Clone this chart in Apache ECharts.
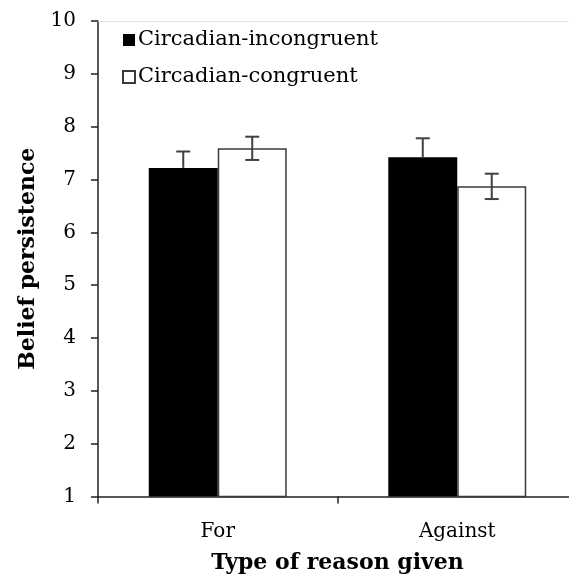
<!DOCTYPE html>
<html>
<head>
<meta charset="utf-8">
<script src="https://cdn.jsdelivr.net/npm/echarts@6/dist/echarts.min.js"></script>
<style>
  html, body { margin: 0; padding: 0; background: #fff; overflow: hidden; }
  #chart { width: 569px; height: 582px; }
</style>
</head>
<body>
<div id="chart"></div>
<script>
// Reason types on the x axis
const categories = ['For', 'Against'];

// Mean belief persistence per group
const incongruent = [7.22, 7.42];
const congruent = [7.59, 6.87];

// Standard errors for each mean
const incongruentErr = [0.31, 0.36];
const congruentErr = [0.22, 0.24];

const seriesNames = ['Circadian-incongruent', 'Circadian-congruent'];
const yTicks = [1, 10, 1]; // min, max, step

const FONT = 'DejaVu Serif';
const BAR_FRACTION = 0.288; // bar width as share of a category band

// Error bars drawn at the centre of each bar in a group of two;
// the lower whisker of a solid black bar would be hidden, so it can be skipped
function errorSeries(values, errs, side, showLower) {
  return {
    type: 'custom',
    silent: true,
    z: 5,
    data: values.map((v, i) => [i, v, errs[i]]),
    renderItem: function (params, api) {
      const idx = api.value(0);
      const v = api.value(1);
      const e = api.value(2);
      const band = api.size([1, 0])[0];
      const dx = side * band * BAR_FRACTION / 2;
      const hi = api.coord([idx, v + e]);
      const lo = showLower ? api.coord([idx, v - e]) : api.coord([idx, v]);
      const x = hi[0] + dx;
      const cap = 7;
      const style = { stroke: '#404040', lineWidth: 2 };
      const children = [
        { type: 'line', shape: { x1: x, y1: hi[1], x2: x, y2: lo[1] }, style },
        { type: 'line', shape: { x1: x - cap, y1: hi[1], x2: x + cap, y2: hi[1] }, style }
      ];
      if (showLower) {
        children.push({ type: 'line', shape: { x1: x - cap, y1: lo[1], x2: x + cap, y2: lo[1] }, style });
      }
      return { type: 'group', children };
    }
  };
}

const chart = echarts.init(document.getElementById('chart'), null, { renderer: 'canvas' });

chart.setOption({
  animation: false,
  backgroundColor: '#fff',
  textStyle: { fontFamily: FONT },
  grid: { left: 98, right: -8, top: 21, bottom: 85.5, containLabel: false, outerBoundsMode: 'none' },
  legend: {
    orient: 'vertical',
    left: 117,
    top: 24,
    itemGap: 15,
    itemWidth: 12,
    itemHeight: 12,
    icon: 'rect',
    selectedMode: false,
    textStyle: { fontFamily: FONT, fontSize: 21, lineHeight: 22, color: '#000', padding: [0, 0, 0, -2] },
    data: seriesNames
  },
  xAxis: [
    {
      type: 'category',
      data: categories,
      boundaryGap: true,
      name: 'Type of reason given',
      nameLocation: 'middle',
      nameGap: 56,
      nameTextStyle: { fontFamily: FONT, fontWeight: 'bold', fontSize: 22, color: '#000' },
      axisLine: { lineStyle: { color: '#222', width: 1.5 } },
      axisTick: { show: true, length: 7, inside: false, lineStyle: { color: '#222', width: 1.5 } },
      axisLabel: { fontFamily: FONT, fontSize: 20, color: '#000', margin: 25 },
      splitLine: { show: false }
    },
    {
      type: 'category',
      data: categories,
      position: 'top',
      axisLine: { lineStyle: { color: '#e2e2e2', width: 1 } },
      axisTick: { show: false },
      axisLabel: { show: false },
      splitLine: { show: false }
    }
  ],
  yAxis: {
    type: 'value',
    min: yTicks[0],
    max: yTicks[1],
    interval: yTicks[2],
    name: 'Belief persistence',
    nameLocation: 'middle',
    nameGap: 57,
    nameTextStyle: { fontFamily: FONT, fontWeight: 'bold', fontSize: 22, color: '#000' },
    axisLine: { show: true, lineStyle: { color: '#222', width: 1.5 } },
    axisTick: { show: true, length: 7, lineStyle: { color: '#222', width: 1.5 } },
    axisLabel: { fontFamily: FONT, fontSize: 20, color: '#000', margin: 22 },
    splitLine: { show: false }
  },
  series: [
    {
      name: seriesNames[0],
      type: 'bar',
      data: incongruent,
      barWidth: (BAR_FRACTION * 100) + '%',
      barGap: '0%',
      itemStyle: { color: '#000', borderColor: '#000', borderWidth: 0 }
    },
    {
      name: seriesNames[1],
      type: 'bar',
      data: congruent,
      barWidth: (BAR_FRACTION * 100) + '%',
      barGap: '0%',
      itemStyle: { color: '#fff', borderColor: '#3a3a3a', borderWidth: 1.5 }
    },
    errorSeries(incongruent, incongruentErr, -1, false),
    errorSeries(congruent, congruentErr, 1, true)
  ]
});
</script>
</body>
</html>
